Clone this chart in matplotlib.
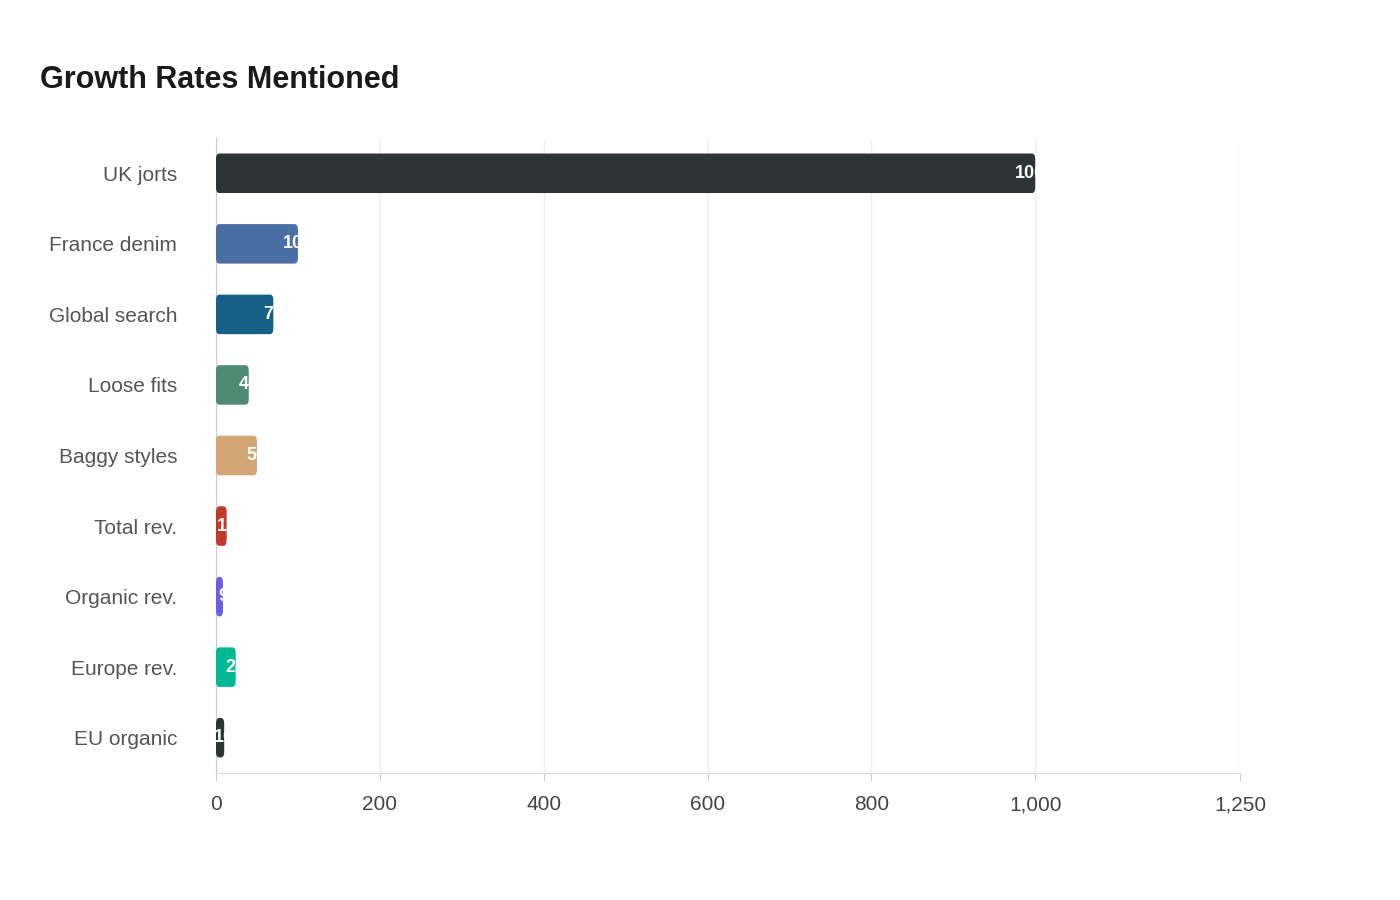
import matplotlib.pyplot as plt
from matplotlib.patches import FancyBboxPatch
from matplotlib.ticker import FuncFormatter

plt.rcParams['font.family'] = ['Liberation Sans', 'DejaVu Sans']

categories = ["UK jorts", "France denim", "Global search", "Loose fits", "Baggy styles",
              "Total rev.", "Organic rev.", "Europe rev.", "EU organic"]
values = [1000, 100, 70, 40, 50, 13, 8.5, 24, 10]
labels = ["1000", "100", "70", "40", "50", "13", "9", "24", "10"]
colors = ["#2d3436", "#4a6fa5", "#166088", "#4f8a75", "#d4a574",
          "#c0392b", "#6c5ce7", "#00b894", "#2d3436"]

fig = plt.figure(figsize=(14, 9), dpi=100)
ax = fig.add_axes([216/1400, 1-773/900, (1240-216)/1400, (773-138)/900])

h = 0.56
for i, (v, c, lab) in enumerate(zip(values, colors, labels)):
    ax.add_patch(FancyBboxPatch((0, i - h/2), v, h,
                                boxstyle="round,pad=0,rounding_size=4",
                                mutation_aspect=0.02, fc=c, ec="none", zorder=3))
    ax.text(v, i, lab, color="white", ha="center", va="center",
            fontsize=13, fontweight="bold", zorder=4, clip_on=True)

ax.set_xlim(0, 1250)
ax.set_ylim(len(categories) - 0.5, -0.5)
ax.set_yticks(range(len(categories)))
ax.set_yticklabels(categories, fontsize=15, color="#555555")
ax.set_xticks([0, 200, 400, 600, 800, 1000, 1250])
ax.xaxis.set_major_formatter(FuncFormatter(lambda x, p: f"{int(x):,}"))
ax.tick_params(axis="x", labelsize=15, colors="#444444", length=6, color="#cccccc", pad=10)
ax.tick_params(axis="y", length=0, pad=28)
ax.grid(axis="x", color="#eeeeee", lw=1, zorder=0)
for s in ["top", "right"]:
    ax.spines[s].set_visible(False)
ax.spines["left"].set_color("#cccccc")
ax.spines["bottom"].set_color("#dddddd")

fig.text(40/1400, 1-80/900, "Growth Rates Mentioned", fontsize=22, fontweight="bold",
         color="#1a1a1a", va="center")

fig.savefig("out.png", dpi=100)
